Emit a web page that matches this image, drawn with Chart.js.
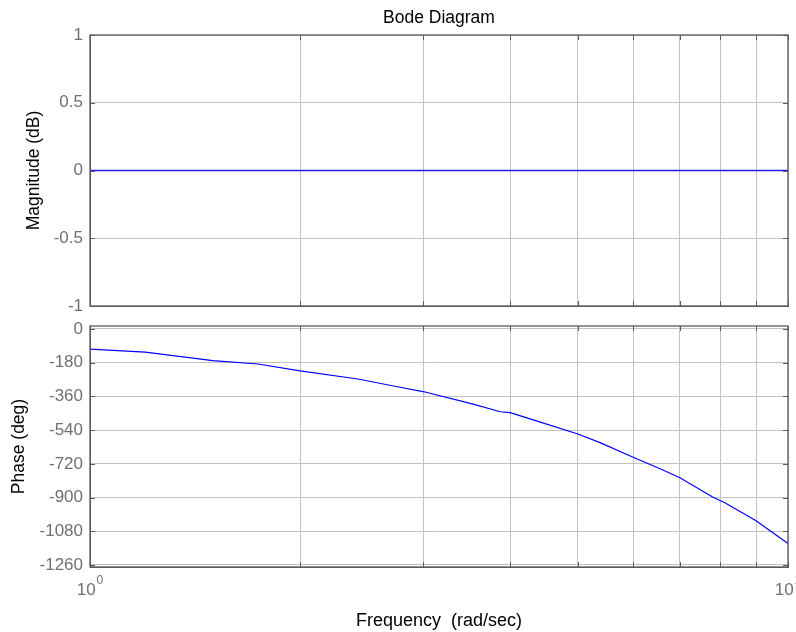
<!DOCTYPE html>
<html>
<head>
<meta charset="utf-8">
<title>Bode Diagram</title>
<script src="https://cdn.jsdelivr.net/npm/chart.js@4.4.0/dist/chart.umd.min.js"></script>
<style>
  body { margin: 0; background: #fff; }
  #wrap { position: relative; width: 796px; height: 632px; }
  .box { position: absolute; left: 0; width: 796px; height: 316px; }
</style>
</head>
<body>
<div id="wrap">
  <div class="box" style="top:0"><canvas id="magChart" width="796" height="316"></canvas></div>
  <div class="box" style="top:316px"><canvas id="phaseChart" width="796" height="316"></canvas></div>
</div>
<script>
// Frequency points (rad/sec)
const freq = [1, 1.2, 1.5, 1.74, 2, 2.42, 2.78, 3, 3.54, 3.87, 4, 4.36, 5, 5.38, 6, 6.62, 7, 7.81, 8.12, 9, 10];
// Magnitude (dB) - flat line
const magnitude = [0, 0, 0, 0, 0, 0, 0, 0, 0, 0, 0, 0, 0, 0, 0, 0, 0, 0, 0, 0, 0];
// Phase (deg)
const phase = [-108, -124, -169, -187, -224, -267, -311, -334, -401, -442, -447, -491, -561, -607, -685, -753, -794, -899, -928, -1024, -1145];

// Tick positions and labels
const freqGrid = [1, 2, 3, 4, 5, 6, 7, 8, 9, 10];
const freqLabelValues = [1, 10];
const freqLabelExps = ['0', '1'];
const magTicks = [1, 0.5, 0, -0.5, -1];
const phaseTicks = [0, -180, -360, -540, -720, -900, -1080, -1260];

const FONT = 'Arial, "Liberation Sans", sans-serif';
const GRID = '#c2c2c2';
const FRAME = '#5a5a5a';
const TICK_TEXT = '#707070';

// axes box with small inward tick marks (matlab style)
const boxPlugin = {
    id: 'box',
    afterDraw(chart) {
        const { ctx, chartArea: a, scales } = chart;
        ctx.save();
        ctx.strokeStyle = FRAME;
        ctx.lineWidth = 1;
        ctx.beginPath();
        scales.x.ticks.forEach(t => {
            const px = Math.round(scales.x.getPixelForValue(t.value)) + 0.5;
            ctx.moveTo(px, a.bottom); ctx.lineTo(px, a.bottom - 5);
            ctx.moveTo(px, a.top); ctx.lineTo(px, a.top + 5);
        });
        scales.y.ticks.forEach(t => {
            const py = Math.round(scales.y.getPixelForValue(t.value)) + 0.5;
            ctx.moveTo(a.left, py); ctx.lineTo(a.left + 5, py);
            ctx.moveTo(a.right, py); ctx.lineTo(a.right - 5, py);
        });
        ctx.stroke();
        ctx.lineWidth = 1.3;
        ctx.strokeRect(a.left, a.top, a.right - a.left, a.bottom - a.top);
        ctx.restore();
    }
};

// "10^n" labels under the frequency axis
const expLabels = {
    id: 'expLabels',
    afterDraw(chart) {
        const { ctx, chartArea: a, scales: { x } } = chart;
        ctx.save();
        ctx.fillStyle = TICK_TEXT;
        ctx.textBaseline = 'middle';
        ctx.textAlign = 'left';
        freqLabelValues.forEach((v, i) => {
            const px = x.getPixelForValue(v);
            ctx.font = '17px ' + FONT;
            const w = ctx.measureText('10').width;
            ctx.font = '12px ' + FONT;
            const sw = ctx.measureText(freqLabelExps[i]).width;
            const left = px - (w + sw + 1) / 2;
            ctx.font = '17px ' + FONT;
            ctx.fillText('10', left, a.bottom + 23);
            ctx.font = '12px ' + FONT;
            ctx.fillText(freqLabelExps[i], left + w + 1, a.bottom + 14);
        });
        ctx.restore();
    }
};

function xScale(height, showTitle) {
    return {
        type: 'logarithmic',
        min: 1,
        max: 10,
        afterBuildTicks: s => { s.ticks = freqGrid.map(v => ({ value: v })); },
        afterFit: s => { s.height = height; s.paddingLeft = 0; s.paddingRight = 0; },
        ticks: { display: false },
        grid: { color: GRID, drawTicks: false },
        border: { color: FRAME },
        title: {
            display: showTitle,
            text: 'Frequency  (rad/sec)',
            color: '#000',
            font: { family: FONT, size: 18 },
            padding: { top: 0, bottom: 0 }
        }
    };
}

function yScale(min, max, tickList, label, titlePad) {
    return {
        min: min,
        max: max,
        afterBuildTicks: s => { s.ticks = tickList.map(v => ({ value: v })); },
        afterFit: s => { s.width = 90; s.paddingTop = 0; s.paddingBottom = 0; },
        ticks: {
            color: TICK_TEXT,
            font: { family: FONT, size: 17 },
            padding: 7,
            callback: v => String(v)
        },
        grid: { color: GRID, drawTicks: false },
        border: { color: FRAME },
        title: {
            display: true,
            text: label,
            color: '#000',
            font: { family: FONT, size: 17.5 },
            padding: { top: titlePad, bottom: 0 }
        }
    };
}

function points(ys) {
    return freq.map((f, i) => ({ x: f, y: ys[i] }));
}

function magnitudeChart() {
    new Chart(document.getElementById('magChart'), {
        type: 'line',
        data: {
            datasets: [{
                data: points(magnitude),
                borderColor: '#2020f0',
                borderWidth: 1.6,
                pointRadius: 0,
                tension: 0
            }]
        },
        options: {
            responsive: false,
            animation: false,
            layout: { padding: { left: 0, right: 8, top: 0, bottom: 0 } },
            plugins: {
                legend: { display: false },
                tooltip: { enabled: false },
                title: {
                    display: true,
                    text: 'Bode Diagram',
                    fullSize: false,
                    color: '#000',
                    font: { family: FONT, size: 17.5, weight: 'normal' },
                    padding: { top: 8, bottom: 6 }
                }
            },
            scales: {
                x: xScale(10, false),
                y: yScale(-1, 1, magTicks, 'Magnitude (dB)', 24)
            }
        },
        plugins: [boxPlugin]
    });
}

function phaseChart() {
    new Chart(document.getElementById('phaseChart'), {
        type: 'line',
        data: {
            datasets: [{
                data: points(phase),
                borderColor: '#0000ff',
                borderWidth: 1.2,
                pointRadius: 0,
                tension: 0
            }]
        },
        options: {
            responsive: false,
            animation: false,
            layout: { padding: { left: 0, right: 8, top: 10, bottom: 0 } },
            plugins: {
                legend: { display: false },
                tooltip: { enabled: false }
            },
            scales: {
                x: xScale(65, true),
                y: yScale(-1271, 16, phaseTicks, 'Phase (deg)', 9)
            }
        },
        plugins: [boxPlugin, expLabels]
    });
}

magnitudeChart();
phaseChart();
</script>
</body>
</html>
